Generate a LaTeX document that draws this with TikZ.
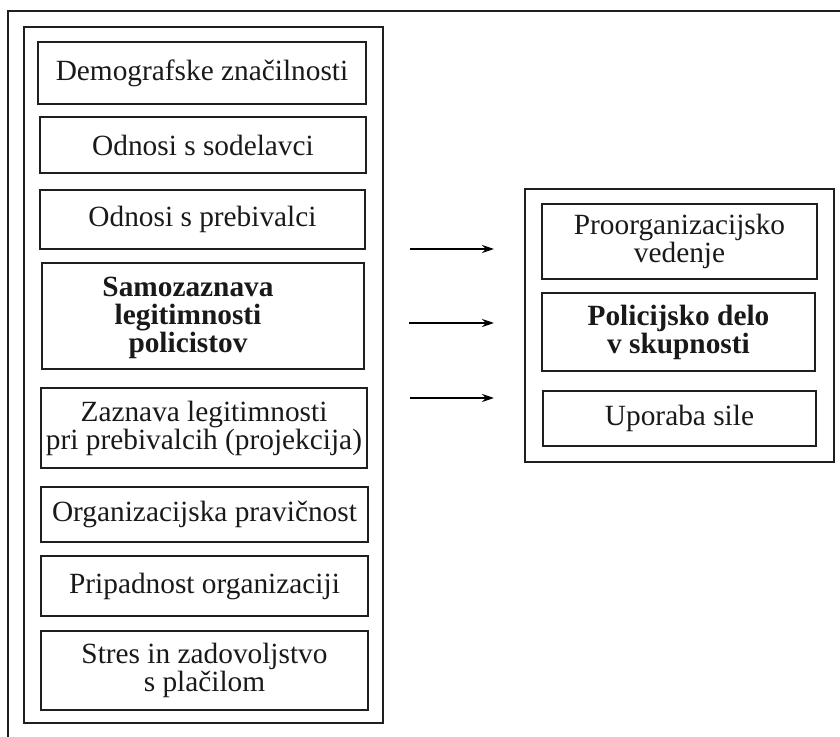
\documentclass[tikz,border=0pt]{standalone}
\usepackage{fontspec}
\setmainfont{Liberation Serif}
\usetikzlibrary{fit,arrows.meta}
\begin{document}
\begin{tikzpicture}[x=0.75pt,y=-0.75pt,
  frame/.style={draw=black!88,line width=1.7pt,inner sep=0pt},
  box/.style={draw=black!88,line width=1.7pt,inner sep=0pt},
  txt/.style={align=center,inner sep=0pt,text=black!90,
    font=\fontsize{22}{19.5}\selectfont},
  btxt/.style={txt,font=\fontsize{22}{21}\selectfont\bfseries},
  arr/.style={line width=1.7pt,-{Stealth[length=9pt,width=6pt]}}]
\useasboundingbox (0,0) rectangle (840,737);
% outer frame (only top and left edges visible)
\coordinate (otr) at (840,11);
\coordinate (otl) at (8,11);
\coordinate (obl) at (8,737);
\draw[line width=1.7pt,draw=black!88] (otr) -- (otl) -- (obl);
% left frame
\node[frame,fit={(24,27) (383,723)}] (lf) {};
\node[box,fit={(38,42) (366,104)}] (b1) {};
\node[txt] (t1) at (b1.center) {Demografske značilnosti};
\node[box,fit={(40,117) (366,173)}] (b2) {};
\node[txt] (t2) at (b2.center) {Odnosi s sodelavci};
\node[box,fit={(40,190) (365,249)}] (b3) {};
\node[txt] (t3) at (b3.center) {Odnosi s prebivalci};
\node[box,fit={(42,263) (364,369)}] (b4) {};
\node[btxt] (t4) at (188,318) {Samozaznava\\legitimnosti\\policistov};
\node[box,fit={(41,388) (367,468)}] (b5) {};
\node[txt] (t5) at (b5.center) {Zaznava legitimnosti\\pri prebivalcih (projekcija)};
\node[box,fit={(41,487) (368,542)}] (b6) {};
\node[txt] (t6) at (b6.center) {Organizacijska pravičnost};
\node[box,fit={(41,556) (368,616)}] (b7) {};
\node[txt] (t7) at (b7.center) {Pripadnost organizaciji};
\node[box,fit={(41,631) (368,710)}] (b8) {};
\node[txt] (t8) at (b8.center) {Stres in zadovoljstvo\\s plačilom};
% right frame
\node[frame,fit={(525,189) (834,462)}] (rf) {};
\node[box,fit={(542,204) (817,279)}] (r1) {};
\node[txt] (s1) at (r1.center) {Proorganizacijsko\\vedenje};
\node[box,fit={(542,293) (815,371)}] (r2) {};
\node[btxt] (s2) at (r2.center) {Policijsko delo\\v skupnosti};
\node[box,fit={(543,391) (816,446)}] (r3) {};
\node[txt] (s3) at (r3.center) {Uporaba sile};
% arrows
\coordinate (a1s) at (410,249); \coordinate (a1e) at (494,249);
\coordinate (a2s) at (409,323); \coordinate (a2e) at (494,323);
\coordinate (a3s) at (410,398); \coordinate (a3e) at (494,398);
\draw[arr] (a1s) -- (a1e);
\draw[arr] (a2s) -- (a2e);
\draw[arr] (a3s) -- (a3e);
\end{tikzpicture}
\end{document}
